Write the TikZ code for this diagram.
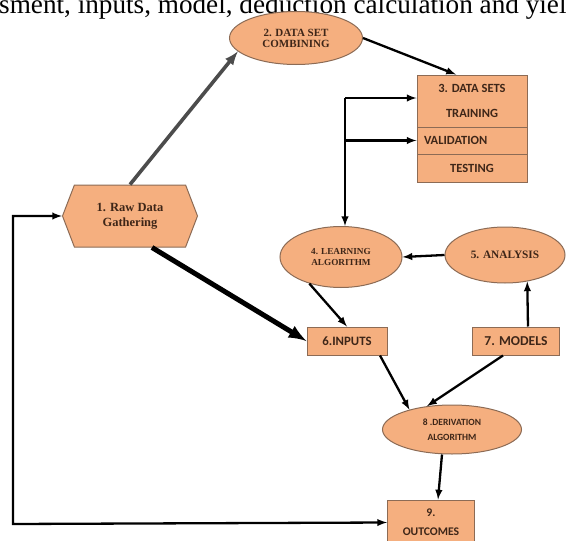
\documentclass[tikz,border=0pt]{standalone}
\usepackage{fontspec}
\setmainfont{Liberation Serif}
\newfontfamily\boxfont{Carlito}
\usetikzlibrary{shapes.geometric,shapes.symbols}
\definecolor{peach}{HTML}{F5AF7F}
\definecolor{rim}{HTML}{8C6B55}
\definecolor{ink}{HTML}{3E2618}

\begin{document}
\begin{tikzpicture}[x=1pt,y=-1pt,>=latex,
  oval/.style={ellipse,fill=peach,draw=rim,line width=1pt,inner sep=0pt,text=ink,align=center},
  box/.style={rectangle,fill=peach,draw=rim,line width=1pt,inner sep=0pt,text=ink,align=center},
  conn/.style={->,line width=2.3pt}]
\clip (0,0) rectangle (566,541);
\useasboundingbox (0,0) rectangle (566,541);

\node[anchor=base west,inner sep=0pt,font=\fontsize{27.2}{30}\selectfont] (cap) at (-1,13) {sment, inputs, model, deduction calculation and yield};

\node[oval,minimum width=133pt,minimum height=53pt,font=\bfseries\fontsize{11}{11}\selectfont] (comb) at (296,38) {2. DATA SET\\COMBINING};
\node[box,minimum width=110pt,minimum height=52pt,font=\boxfont\bfseries\fontsize{12.5}{25}\selectfont] (ds) at (472,101) {3. DATA SETS\\TRAINING};
\node[box,minimum width=110pt,minimum height=27pt,text width=96pt,align=left,inner xsep=7pt,font=\boxfont\bfseries\fontsize{12.5}{13}\selectfont] (val) at (472,140.5) {VALIDATION};
\node[box,minimum width=110pt,minimum height=28pt,font=\boxfont\bfseries\fontsize{12.5}{13}\selectfont] (test) at (472,168) {TESTING};
\node[signal,signal to=east and west,signal pointer angle=138,fill=peach,draw=rim,line width=1pt,inner sep=0pt,text=ink,align=center,minimum width=135pt,minimum height=62pt,font=\bfseries\fontsize{12.5}{15}\selectfont] (hex) at (130,216) {1. Raw Data\\Gathering};
\node[oval,minimum width=122pt,minimum height=61pt,font=\bfseries\fontsize{9.2}{10.7}\selectfont] (learn) at (341,257) {4. LEARNING\\ALGORITHM};
\node[oval,minimum width=120pt,minimum height=56pt,font=\bfseries\fontsize{11.3}{11}\selectfont] (ana) at (505,255) {5. ANALYSIS};
\node[box,minimum width=80pt,minimum height=28pt,font=\boxfont\bfseries\fontsize{12.8}{14}\selectfont] (inp) at (347,341) {6.INPUTS};
\node[box,minimum width=87pt,minimum height=28pt,font=\boxfont\bfseries\fontsize{13.6}{14}\selectfont] (mod) at (516,341) {7. MODELS};
\node[oval,minimum width=139pt,minimum height=49pt,font=\boxfont\bfseries\fontsize{9.5}{15}\selectfont] (deriv) at (452,429.5) {8 .DERIVATION\\ALGORITHM};
\node[box,minimum width=87pt,minimum height=45pt,font=\boxfont\bfseries\fontsize{11.7}{19}\selectfont] (out) at (431,522.5) {9.\\OUTCOMES};

\coordinate (jn) at (345,98);
\coordinate (loop) at (13,524);

\draw[->,line width=3.6pt,draw=black!70] (hex.north) -- (comb.193);
\draw[conn] (comb.east) -- ([xshift=-16pt]ds.north);
\draw[->,line width=5pt] ([xshift=22pt]hex.south) -- (inp.west);
\draw[conn] (jn) -- (jn -| ds.west);
\draw[conn] (jn |- val.west) -- (val.west);
\draw[conn] (jn) -- (jn |- learn.north);
\draw[conn] (ana.west) -- (learn.east);
\draw[conn] (learn.220) -- (inp.north);
\draw[conn] ([xshift=12pt]mod.north) -- (ana.310);
\draw[conn] ([xshift=33pt]inp.south) -- (deriv.155);
\draw[conn] ([xshift=-13pt]mod.south) -- (deriv.137);
\draw[conn] ([xshift=-10pt]deriv.south) -- ([xshift=7pt]out.north);
\draw[<->,line width=2.3pt] (hex.west) -| (loop) -- (out.west);

\end{tikzpicture}
\end{document}
